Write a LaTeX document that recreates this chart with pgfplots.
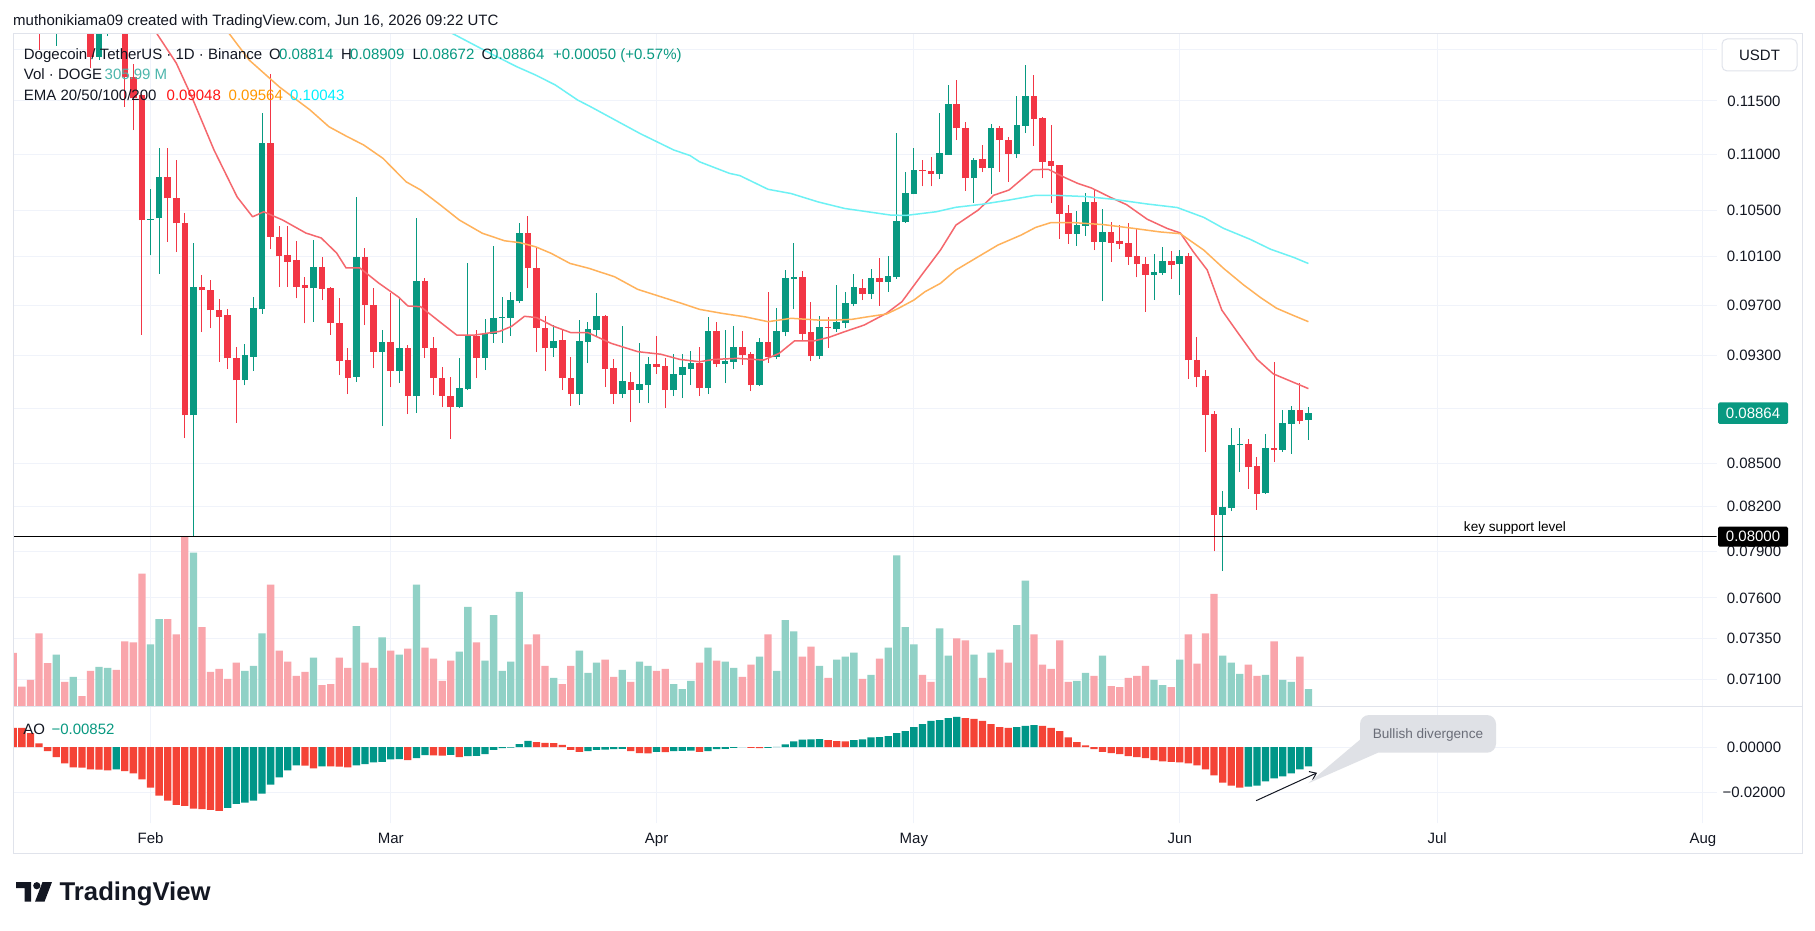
\documentclass[border=0pt]{standalone}
\usepackage{fontspec}
\setmainfont{Liberation Sans}
\usepackage{pgfplots}
\pgfplotsset{compat=1.18}
\usepackage{pgfplotstable}
\usetikzlibrary{arrows.meta}

\definecolor{upc}{HTML}{089981}
\definecolor{dnc}{HTML}{F23645}
\definecolor{aoup}{HTML}{009688}
\definecolor{aodn}{HTML}{F44336}
\definecolor{gridc}{HTML}{F0F3FA}
\definecolor{framec}{HTML}{E0E3EB}
\definecolor{txt}{HTML}{131722}
\definecolor{emaA}{HTML}{F5676D}
\definecolor{emaB}{HTML}{FFB25B}
\definecolor{emaC}{HTML}{6DF1F4}
\definecolor{bubble}{HTML}{DFE1E6}
\definecolor{bubtxt}{HTML}{6A6D78}
\definecolor{voltxt}{HTML}{4DB6AC}

\newcommand{\tvf}{\fontsize{15}{18}\selectfont}
\newcommand{\tvs}{\fontsize{13.6}{16}\selectfont}

% daily candles, Binance DOGE/USDT; d = days from 1 Feb, V = volume in millions
\pgfplotstableread{
d O H L C V
-11 0.1232 0.1262 0.1204 0.1250 918
-9 0.1235 0.1270 0.1228 0.1258 522
-6 0.11931 0.1255 0.1190 0.1240 702
-5 0.1225 0.1262 0.12138 0.1245 684
0 0.10417 0.10689 0.10110 0.10426 1098
1 0.10428 0.11060 0.09957 0.10794 1548
5 0.08848 0.10216 0.08000 0.09848 2730
11 0.09110 0.09391 0.09072 0.09307 630
12 0.09293 0.09766 0.09183 0.09675 720
13 0.09666 0.11388 0.09631 0.11107 1296
19 0.09837 0.10244 0.09565 0.10017 864
24 0.09136 0.10615 0.09098 0.10097 1422
27 0.09328 0.09501 0.08770 0.09406 1224
29 0.09181 0.09765 0.09090 0.09360 918
31 0.08992 0.10430 0.08866 0.09897 2160
36 0.08910 0.09282 0.08903 0.09052 972
37 0.09045 0.10047 0.09037 0.09453 1764
39 0.09282 0.09588 0.09189 0.09477 810
40 0.09470 0.10190 0.09399 0.09596 1620
41 0.09596 0.09765 0.09399 0.09604 630
42 0.09596 0.09807 0.09454 0.09741 792
43 0.09733 0.10387 0.09717 0.10301 2034
47 0.09356 0.09540 0.09289 0.09414 504
50 0.09007 0.09580 0.08925 0.09414 990
51 0.09406 0.09564 0.09243 0.09509 594
52 0.09501 0.09798 0.09446 0.09616 774
55 0.09007 0.09529 0.08977 0.09102 648
57 0.09037 0.09399 0.08940 0.09083 792
58 0.09075 0.09289 0.08940 0.09235 720
61 0.09037 0.09313 0.08992 0.09159 396
62 0.09152 0.09313 0.08977 0.09212 306
63 0.09197 0.09336 0.09075 0.09243 450
65 0.09052 0.09601 0.09007 0.09493 1044
67 0.09235 0.09501 0.09090 0.09258 792
68 0.09252 0.09529 0.09197 0.09368 684
71 0.09077 0.09434 0.09069 0.09409 882
73 0.09286 0.09677 0.09274 0.09493 630
74 0.09485 0.09988 0.09451 0.09922 1530
75 0.09913 0.10217 0.09666 0.09933 1332
78 0.09295 0.09612 0.09274 0.09525 720
80 0.09509 0.09867 0.09485 0.09564 828
81 0.09558 0.09807 0.09514 0.09718 882
82 0.09709 0.09957 0.09689 0.09848 954
84 0.09793 0.09996 0.09749 0.09922 558
86 0.09891 0.10106 0.09807 0.09938 1044
87 0.09926 0.11196 0.09917 0.10404 2682
88 0.10396 0.10838 0.10390 0.10650 1404
89 0.10641 0.11057 0.10638 0.10856 1098
92 0.10820 0.11384 0.10775 0.11010 1386
93 0.10997 0.11656 0.10993 0.11474 900
96 0.10780 0.10965 0.10563 0.10947 918
98 0.10872 0.11280 0.10644 0.11241 954
101 0.11004 0.11544 0.10965 0.11268 1440
102 0.11264 0.11852 0.11196 0.11544 2232
108 0.10295 0.10493 0.10193 0.10367 450
109 0.10364 0.10650 0.10279 0.10571 594
111 0.10226 0.10509 0.09733 0.10310 900
117 0.09948 0.10122 0.09741 0.09971 468
118 0.09966 0.10181 0.09950 0.10063 378
120 0.10038 0.10156 0.09784 0.10109 828
125 0.08144 0.08306 0.07772 0.08198 900
126 0.08188 0.08753 0.08170 0.08630 774
127 0.08630 0.08753 0.08440 0.08640 576
130 0.08294 0.08713 0.08289 0.08609 558
132 0.08597 0.08887 0.08583 0.08793 468
133 0.08785 0.08919 0.08570 0.08887 432
135 0.08814 0.08909 0.08672 0.08864 306
}\upcandles

\pgfplotstableread{
d O H L C V
-16 0.1300 0.1320 0.1270 0.1280 948
-15 0.1290 0.1310 0.1262 0.1270 348
-14 0.1275 0.1290 0.1245 0.1255 468
-13 0.1262 0.1280 0.1200 0.1235 1296
-12 0.1240 0.1255 0.1222 0.1228 768
-10 0.1250 0.1262 0.1225 0.1235 432
-8 0.1258 0.1268 0.1235 0.1242 180
-7 0.1245 0.1255 0.11816 0.11931 630
-4 0.1250 0.1262 0.1228 0.1235 648
-3 0.1232 0.1245 0.11444 0.11733 1152
-2 0.11735 0.11863 0.11224 0.11524 1134
-1 0.11556 0.11570 0.09462 0.10413 2358
2 0.10794 0.11054 0.10228 0.10603 1548
3 0.10609 0.10947 0.10137 0.10385 1278
4 0.10391 0.10477 0.08683 0.08848 3010
6 0.09848 0.09949 0.09484 0.09820 1404
7 0.09825 0.09907 0.09514 0.09658 612
8 0.09663 0.09752 0.09251 0.09608 666
9 0.09617 0.09666 0.09197 0.09279 486
10 0.09285 0.09368 0.08795 0.09110 774
14 0.11107 0.11756 0.10161 0.10268 2160
15 0.10268 0.10360 0.09848 0.10101 990
16 0.10110 0.10361 0.09848 0.10056 792
17 0.10072 0.10231 0.09755 0.09848 540
18 0.09860 0.09928 0.09554 0.09837 612
20 0.10017 0.10097 0.09741 0.09835 378
21 0.09839 0.09848 0.09462 0.09556 396
22 0.09556 0.09757 0.09151 0.09258 864
23 0.09266 0.09360 0.09007 0.09128 684
25 0.10097 0.10173 0.09540 0.09701 774
26 0.09701 0.09839 0.09204 0.09328 684
28 0.09406 0.09798 0.09060 0.09181 990
30 0.09360 0.09383 0.08858 0.08992 1026
32 0.09897 0.09922 0.09282 0.09360 1044
33 0.09360 0.09446 0.09000 0.09128 846
34 0.09128 0.09212 0.08910 0.08992 450
35 0.08992 0.09136 0.08675 0.08910 810
38 0.09453 0.09501 0.09128 0.09282 1134
44 0.10301 0.10448 0.09839 0.10005 1098
45 0.10005 0.10182 0.09328 0.09517 1278
46 0.09517 0.09612 0.09181 0.09356 720
48 0.09422 0.09501 0.09037 0.09128 396
49 0.09128 0.09289 0.08918 0.09007 720
53 0.09616 0.09624 0.09060 0.09197 828
54 0.09204 0.09274 0.08932 0.09007 522
56 0.09098 0.09174 0.08799 0.09037 432
59 0.09235 0.09453 0.09159 0.09212 630
60 0.09220 0.09278 0.08903 0.09037 666
64 0.09243 0.09368 0.08992 0.09052 774
66 0.09493 0.09564 0.09212 0.09235 810
69 0.09368 0.09493 0.09230 0.09305 522
70 0.09309 0.09328 0.09030 0.09072 738
72 0.09409 0.09806 0.09244 0.09286 1278
76 0.09933 0.09981 0.09414 0.09472 882
77 0.09483 0.09725 0.09258 0.09295 1062
79 0.09525 0.09601 0.09363 0.09514 504
83 0.09837 0.09913 0.09741 0.09793 486
85 0.09922 0.10089 0.09695 0.09891 846
90 0.10856 0.10947 0.10709 0.10847 558
91 0.10847 0.10974 0.10709 0.10820 432
94 0.11474 0.11701 0.11131 0.11241 1206
95 0.11241 0.11299 0.10668 0.10780 1170
97 0.10956 0.11085 0.10838 0.10872 504
99 0.11241 0.11258 0.10839 0.11129 1008
100 0.11129 0.11156 0.10751 0.11004 774
103 0.11544 0.11753 0.11078 0.11329 1278
104 0.11337 0.11343 0.10780 0.10932 738
105 0.10938 0.11275 0.10563 0.10895 666
106 0.10902 0.10905 0.10248 0.10468 1170
107 0.10474 0.10547 0.10207 0.10295 432
110 0.10571 0.10683 0.10156 0.10226 540
112 0.10310 0.10396 0.10058 0.10217 360
113 0.10232 0.10374 0.10164 0.10211 342
114 0.10215 0.10383 0.10033 0.10100 504
115 0.10103 0.10344 0.09927 0.10038 540
116 0.10042 0.10094 0.09645 0.09948 720
119 0.10063 0.10149 0.09913 0.10033 342
121 0.10109 0.10131 0.09121 0.09264 1278
122 0.09269 0.09448 0.09058 0.09133 756
123 0.09141 0.09189 0.08583 0.08852 1296
124 0.08855 0.08880 0.07902 0.08144 1998
128 0.08640 0.08674 0.08322 0.08474 738
129 0.08484 0.08544 0.08180 0.08289 540
131 0.08609 0.09251 0.08511 0.08597 1152
134 0.08887 0.09091 0.08785 0.08807 882
}\downcandles

% Awesome Oscillator, rising and falling columns
\pgfplotstableread{
d ao
-4 -0.0099
9 -0.0269
10 -0.0251
11 -0.0246
12 -0.0237
13 -0.0206
14 -0.0166
15 -0.0134
16 -0.0103
17 -0.0081
20 -0.0085
24 -0.0081
25 -0.0076
26 -0.0068
27 -0.0066
28 -0.0055
29 -0.0053
31 -0.0049
32 -0.0036
35 -0.0035
37 -0.0040
38 -0.0039
39 -0.0031
40 -0.0013
41 -0.0005
42 -0.0003
43 0.0013
44 0.0027
51 -0.0018
52 -0.0013
53 -0.0012
54 -0.0009
55 -0.0008
59 -0.0022
61 -0.0018
62 -0.0017
63 -0.0016
65 -0.0018
66 -0.0009
67 -0.0008
68 -0.0004
69 -0.0001
72 -0.0004
73 0.0001
74 0.0012
75 0.0025
76 0.0033
77 0.0034
78 0.0035
82 0.0030
83 0.0034
84 0.0042
85 0.0044
86 0.0048
87 0.0061
88 0.0070
89 0.0088
90 0.0101
91 0.0115
92 0.0119
93 0.0128
94 0.0133
101 0.0088
102 0.0093
103 0.0097
128 -0.0175
129 -0.0170
130 -0.0152
131 -0.0139
132 -0.0130
133 -0.0116
134 -0.0099
135 -0.0085
}\aorise

\pgfplotstableread{
d ao
-16 0.0084
-15 0.0084
-14 0.0061
-13 0.0016
-12 -0.0018
-11 -0.0045
-10 -0.0072
-9 -0.0090
-8 -0.0091
-7 -0.0099
-6 -0.0100
-5 -0.0103
-3 -0.0107
-2 -0.0116
-1 -0.0143
0 -0.0179
1 -0.0215
2 -0.0237
3 -0.0255
4 -0.0260
5 -0.0272
6 -0.0274
7 -0.0278
8 -0.0282
18 -0.0082
19 -0.0094
21 -0.0086
22 -0.0087
23 -0.0090
30 -0.0058
33 -0.0037
34 -0.0038
36 -0.0045
45 0.0022
46 0.0018
47 0.0017
48 0.0009
49 -0.0013
50 -0.0022
56 -0.0018
57 -0.0027
58 -0.0028
60 -0.0023
64 -0.0022
70 -0.0004
71 -0.0005
79 0.0030
80 0.0026
81 0.0025
95 0.0128
96 0.0124
97 0.0115
98 0.0101
99 0.0088
100 0.0084
104 0.0093
105 0.0084
106 0.0070
107 0.0043
108 0.0021
109 0.0007
110 -0.0009
111 -0.0022
112 -0.0027
113 -0.0031
114 -0.0040
115 -0.0045
116 -0.0049
117 -0.0058
118 -0.0063
119 -0.0066
120 -0.0068
121 -0.0072
122 -0.0081
123 -0.0099
124 -0.0125
125 -0.0157
126 -0.0170
127 -0.0179
}\aofall

\pgfplotsset{
  pricepane/.style={at={(13.9pt,223.7pt)}, anchor=south west, scale only axis,
    width=1702.8pt, height=672.8pt, xmin=-15.93, xmax=182.6},
  candlewick/.style={draw=none, mark=none, forget plot,
    error bars/.cd, y dir=plus, y explicit, error mark=none,
    error bar style={draw=#1, solid, line width=1pt}},
  candlebody/.style={draw=none, mark=none, forget plot,
    error bars/.cd, y dir=plus, y explicit, error mark=none,
    error bar style={draw=#1, solid, line width=6.6pt}},
  emaline/.style={draw=#1, line width=1.5pt, line join=round, mark=none, forget plot},
}

\begin{document}
\begin{tikzpicture}[x=1pt,y=1pt]
\useasboundingbox (0pt,0pt) rectangle (1815pt,930pt);
\fill[white] (0pt,0pt) rectangle (1815pt,930pt);

% price pane: grid and price scale
\begin{axis}[pricepane,
  ymode=log, ymin=0.06943, ymax=0.12164,
  axis line style={draw=none}, major tick length=0pt,
  xtick={0,28,59,89,120,150,181}, xticklabels={,,,,,,},
  ytick={0.071,0.0735,0.076,0.079,0.082,0.085,0.089,0.093,0.097,0.101,0.105,0.110,0.115,0.120},
  yticklabels={0.07100,0.07350,0.07600,0.07900,0.08200,0.08500,,0.09300,0.09700,0.10100,0.10500,0.11000,0.11500,},
  yticklabel pos=right,
  yticklabel style={anchor=center, xshift=37.3pt, font=\tvf, text=txt},
  grid=major, major grid style={draw=gridc, line width=1pt},
]
\end{axis}

% volume overlay
\begin{axis}[pricepane, ymin=0, ymax=11949, hide axis]
\addplot[ybar, bar width=7.3pt, bar shift=0pt, fill=upc!45!white, draw=none]
  table[x=d, y=V] {\upcandles};
\addplot[ybar, bar width=7.3pt, bar shift=0pt, fill=dnc!45!white, draw=none]
  table[x=d, y=V] {\downcandles};
\end{axis}

% candles and moving averages
\begin{axis}[pricepane, ymode=log, ymin=0.06943, ymax=0.12164, hide axis]
\addplot[candlewick=upc] table[x=d, y=L, y error plus expr=\thisrow{H}-\thisrow{L}] {\upcandles};
\addplot[candlewick=dnc] table[x=d, y=L, y error plus expr=\thisrow{H}-\thisrow{L}] {\downcandles};
\addplot[candlebody=upc] table[x=d, y=O, y error plus expr=\thisrow{C}-\thisrow{O}] {\upcandles};
\addplot[candlebody=dnc] table[x=d, y=C, y error plus expr=\thisrow{O}-\thisrow{C}] {\downcandles};

% EMA 20
\addplot[emaline=emaA] coordinates {
(-3,0.1290) (-1,0.1250) (0.76,0.1216) (3.0,0.11868) (4.8,0.1154) (7.4,0.11039)
(10.1,0.10615) (11.9,0.10441) (13.2,0.10485) (15.4,0.10413) (18.1,0.10301)
(19.9,0.10258) (21.7,0.1013) (22.8,0.10005) (24.4,0.10005) (26.6,0.0988)
(28.9,0.09766) (30.0,0.09693) (31.5,0.09687) (33.7,0.09567) (35.7,0.09461)
(37.8,0.09461) (40.7,0.0949) (42.1,0.0953) (43.6,0.0961) (45.0,0.0960)
(47.0,0.0953) (49.0,0.0948) (51.0,0.0948) (53.7,0.09396) (56.8,0.09331)
(59.5,0.09311) (61.7,0.09271) (64,0.09253) (65.7,0.09271) (68.4,0.09279)
(71.5,0.09266) (73.3,0.09318) (75.1,0.09416) (77.4,0.09416) (79.1,0.09443)
(80.9,0.09487) (83.2,0.0954) (85.8,0.09634) (87.6,0.09727) (89.9,0.09946)
(92.1,0.10156) (93.9,0.10369) (96.5,0.1050) (98.3,0.1063) (100.1,0.10677)
(102.9,0.1086) (104.7,0.10862) (106.4,0.10795) (108.1,0.10736) (109.7,0.10695)
(111.9,0.10612) (113.8,0.10547) (116.2,0.1042) (118.5,0.10341) (120.06,0.10301)
(121.6,0.10139) (123.2,0.09988) (124.9,0.0966) (126.7,0.09486) (129,0.09272)
(130.9,0.0916) (132.9,0.09105) (135,0.09048)};
% EMA 50
\addplot[emaline=emaB] coordinates {
(5,0.1262) (9.2,0.1216) (11.5,0.11898) (15.0,0.11636) (18.6,0.11413)
(20.8,0.11255) (22.8,0.11168) (24.85,0.11085) (27.1,0.10962) (29.8,0.1075)
(31.5,0.10677) (33.8,0.10544) (36,0.10413) (38.7,0.10298) (41.3,0.10234)
(43.1,0.10218) (44.9,0.10183) (46.7,0.10128) (48.9,0.10043) (51.1,0.10002)
(54.1,0.09932) (56.8,0.09828) (59.5,0.09768) (61.7,0.09719) (64,0.09666)
(66.6,0.09634) (69.3,0.09606) (72,0.09567) (74.7,0.09594) (77.8,0.0958)
(80,0.0958) (81.8,0.09586) (83.6,0.09606) (85.8,0.09628) (87.2,0.09674)
(89,0.09741) (90.3,0.09809) (92.1,0.09878) (93.9,0.09988) (96.5,0.10099)
(98.8,0.10198) (101.5,0.10283) (103.2,0.10349) (104.95,0.1039) (107.7,0.1039)
(111.1,0.10373) (114.6,0.10341) (117.7,0.1031) (120.06,0.10295) (122.8,0.10155)
(125.1,0.10002) (127.4,0.09867) (129.4,0.09762) (131.3,0.09674) (133.3,0.09615)
(135,0.09567)};
% EMA 100
\addplot[emaline=emaC] coordinates {
(30,0.1238) (35.3,0.1216) (39.6,0.11965) (42.7,0.11832) (44.9,0.1175)
(47.2,0.11653) (49.8,0.11508) (51.25,0.11447) (57.1,0.1119) (61,0.11039)
(62.9,0.10988) (64,0.10931) (67.5,0.10826) (68.7,0.10806) (72,0.10683)
(74.7,0.10645) (77.8,0.10572) (80.9,0.10514) (83.6,0.10485) (86.3,0.10456)
(88.1,0.10453) (91.6,0.10485) (93.9,0.10524) (97,0.10551) (100.1,0.10588)
(103.2,0.1063) (106,0.10628) (109.2,0.10618) (112.3,0.10594) (116.2,0.10553)
(119.7,0.10522) (122.8,0.10436) (125.1,0.10341) (128.2,0.10247) (130.6,0.10162)
(133.3,0.10093) (135,0.10042)};

% horizontal support drawing
\addplot[black, line width=1.4pt, mark=none] coordinates {(-16,0.08) (182.6,0.08)};
\end{axis}

% oscillator pane with time scale
\begin{axis}[at={(13.9pt,107pt)}, anchor=south west, scale only axis,
  width=1702.8pt, height=116.7pt, xmin=-15.93, xmax=182.6,
  ymin=-0.03355, ymax=0.01797, scaled y ticks=false,
  axis line style={draw=none}, major tick length=0pt,
  xtick={0,28,59,89,120,150,181}, xticklabels={Feb,Mar,Apr,May,Jun,Jul,Aug},
  xticklabel style={anchor=base, yshift=-20pt, font=\tvf, text=txt},
  ytick={-0.02,0}, yticklabels={−0.02000,0.00000},
  yticklabel pos=right,
  yticklabel style={anchor=center, xshift=37.3pt, font=\tvf, text=txt},
  grid=major, major grid style={draw=gridc, line width=1pt},
]
\addplot[ybar, bar width=7.3pt, bar shift=0pt, fill=aoup, draw=none] table[x=d, y=ao] {\aorise};
\addplot[ybar, bar width=7.3pt, bar shift=0pt, fill=aodn, draw=none] table[x=d, y=ao] {\aofall};
\addplot[txt, line width=1pt, mark=none, -{Straight Barb[length=6pt, width=9pt]}]
  coordinates {(128.9,-0.0237) (136.0,-0.0114)};
\end{axis}

% frame and pane separator
\draw[framec, line width=1pt] (13pt,77pt) rectangle (1802pt,896.7pt);
\draw[framec, line width=1pt] (13pt,223.7pt) -- (1802pt,223.7pt);

% header and legends
\node[anchor=base west, inner sep=0pt, font=\tvf, text=txt] at (13pt,904pt)
  {muthonikiama09 created with TradingView.com, Jun 16, 2026 09:22 UTC};
\node[anchor=base west, inner sep=0pt, font=\tvf, text=txt] at (23.7pt,870.7pt)
  {Dogecoin / TetherUS · 1D · Binance};
\node[anchor=base west, inner sep=0pt, font=\tvf, text=txt] at (269pt,870.7pt) {O};
\node[anchor=base west, inner sep=0pt, font=\tvf, text=upc] at (279pt,870.7pt) {0.08814};
\node[anchor=base west, inner sep=0pt, font=\tvf, text=txt] at (341pt,870.7pt) {H};
\node[anchor=base west, inner sep=0pt, font=\tvf, text=upc] at (350pt,870.7pt) {0.08909};
\node[anchor=base west, inner sep=0pt, font=\tvf, text=txt] at (412.5pt,870.7pt) {L};
\node[anchor=base west, inner sep=0pt, font=\tvf, text=upc] at (420pt,870.7pt) {0.08672};
\node[anchor=base west, inner sep=0pt, font=\tvf, text=txt] at (481.5pt,870.7pt) {C};
\node[anchor=base west, inner sep=0pt, font=\tvf, text=upc] at (490pt,870.7pt) {0.08864};
\node[anchor=base west, inner sep=0pt, font=\tvf, text=upc] at (553pt,870.7pt) {+0.00050 (+0.57\%)};
\node[anchor=base west, inner sep=0pt, font=\tvf, text=txt] at (23.7pt,850pt) {Vol · DOGE};
\node[anchor=base west, inner sep=0pt, font=\tvf, text=voltxt] at (104.5pt,850pt) {305.99 M};
\node[anchor=base west, inner sep=0pt, font=\tvf, text=txt] at (23.7pt,829pt) {EMA 20/50/100/200};
\node[anchor=base west, inner sep=0pt, font=\tvf, text={rgb,255:red,255;green,20;blue,20}] at (166.5pt,829pt) {0.09048};
\node[anchor=base west, inner sep=0pt, font=\tvf, text={rgb,255:red,255;green,152;blue,0}] at (228.5pt,829pt) {0.09564};
\node[anchor=base west, inner sep=0pt, font=\tvf, text={rgb,255:red,0;green,240;blue,255}] at (290pt,829pt) {0.10043};
\node[anchor=base west, inner sep=0pt, font=\tvf, text=txt] at (23.1pt,196pt) {AO};
\node[anchor=base west, inner sep=0pt, font=\tvf, text=upc] at (51.3pt,196pt) {−0.00852};

% support label
\node[anchor=base, inner sep=0pt, font=\tvs, text=black] at (1515pt,398.7pt) {key support level};

% price scale badges
\draw[framec, fill=white, line width=1pt, rounded corners=5pt] (1722pt,859pt) rectangle (1797pt,891pt);
\node[font=\tvf, text=txt, inner sep=0pt] at (1759.5pt,875pt) {USDT};
\fill[upc, rounded corners=1.5pt] (1718pt,506pt) rectangle (1788pt,527.5pt);
\node[font=\tvf, text=white, inner sep=0pt] at (1753pt,516.8pt) {0.08864};
\fill[black, rounded corners=1.5pt] (1718pt,383.3pt) rectangle (1788pt,403.3pt);
\node[font=\tvf, text=white, inner sep=0pt] at (1753pt,393.4pt) {0.08000};

% callout
\fill[bubble] (1362pt,192pt) -- (1378pt,177.3pt) -- (1308.3pt,146.7pt) -- cycle;
\fill[bubble, rounded corners=9pt] (1360pt,177.3pt) rectangle (1496pt,215pt);
\node[anchor=base, inner sep=0pt, font=\tvs, text=bubtxt] at (1428pt,191.7pt) {Bullish divergence};

% brand mark
\fill[txt] (16pt,48pt) -- (31pt,48pt) -- (31pt,28.3pt) -- (24.5pt,28.3pt) -- (24.5pt,42pt) -- (16pt,42pt) -- cycle;
\fill[txt] (36.8pt,44.3pt) circle (3.6pt);
\fill[txt] (42.5pt,48pt) -- (52pt,48pt) -- (44.5pt,28.3pt) -- (35pt,28.3pt) -- cycle;
\node[anchor=base west, inner sep=0pt, font=\fontsize{25.7}{30}\selectfont\bfseries, text=txt] at (59.5pt,29.5pt) {TradingView};
\end{tikzpicture}
\end{document}
